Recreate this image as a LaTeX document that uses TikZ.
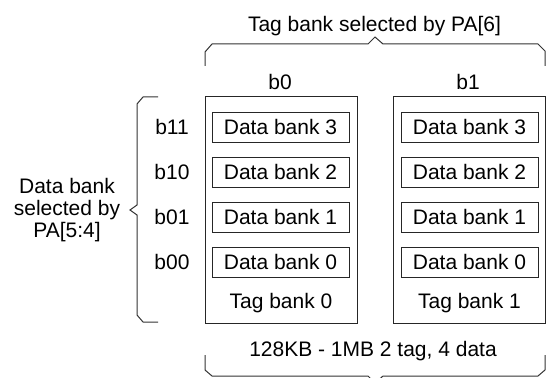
\documentclass[tikz,border=0pt]{standalone}
\usepackage{fontspec}
\setmainfont{Liberation Sans}
\begin{document}
\begin{tikzpicture}[x=1pt,y=-1pt,
  txt/.style={font=\fontsize{21}{22}\selectfont, text height=15pt, text depth=0pt, inner sep=0pt},
  tagbox/.style={draw=black!85, line width=1pt, minimum width=152pt, minimum height=226pt, inner sep=0pt},
  databox/.style={draw=black!85, line width=1pt, minimum width=137pt, minimum height=30pt, inner sep=0pt, txt},
  brace/.style={draw=black!80, line width=1pt, line join=miter}]
\useasboundingbox (0,0) rectangle (553,377);

% tag banks
\node[tagbox] (t0) at (281,210) {};
\node[tagbox] (t1) at (469.5,210) {};

% data banks
\foreach \i/\y in {3/127,2/172,1/217,0/262}{
  \node[databox] (d0\i) at (280.5,\y) {Data bank \i};
  \node[databox] (d1\i) at (469.5,\y) {Data bank \i};
}

\node[txt] (tl0) at (281,301) {Tag bank 0};
\node[txt] (tl1) at (469.5,301) {Tag bank 1};

\node[txt] (b0) at (280,81.5) {b0};
\node[txt] (b1) at (468,81.5) {b1};

\node[txt] (b11) at (172,127) {b11};
\node[txt] (b10) at (172,172) {b10};
\node[txt] (b01) at (172,217) {b01};
\node[txt] (b00) at (172,262) {b00};

\node[txt] (title) at (374.5,24) {Tag bank selected by PA[6]};
\node[txt] (foot) at (373,349) {128KB - 1MB 2 tag, 4 data};

\node[font=\fontsize{21}{22}\selectfont, align=center, inner sep=0pt] (left) at (67,210)
  {Data bank\\selected by\\PA[5:4]};

% top brace
\draw[brace] (205,66) -- (205,52) -- (212,44) -- (368,44) -- (375,37) -- (383,44) -- (538,44) -- (545,51) -- (545,66);
% bottom brace
\draw[brace] (205,355) -- (205,370) -- (212,376) -- (368,376) -- (375,383) -- (383,376) -- (538,376) -- (545,370) -- (545,355);
% left brace
\draw[brace] (158,97) -- (143,97) -- (137,104) -- (137,205) -- (130,210) -- (137,215) -- (137,315) -- (143,322) -- (158,322);
\end{tikzpicture}
\end{document}
